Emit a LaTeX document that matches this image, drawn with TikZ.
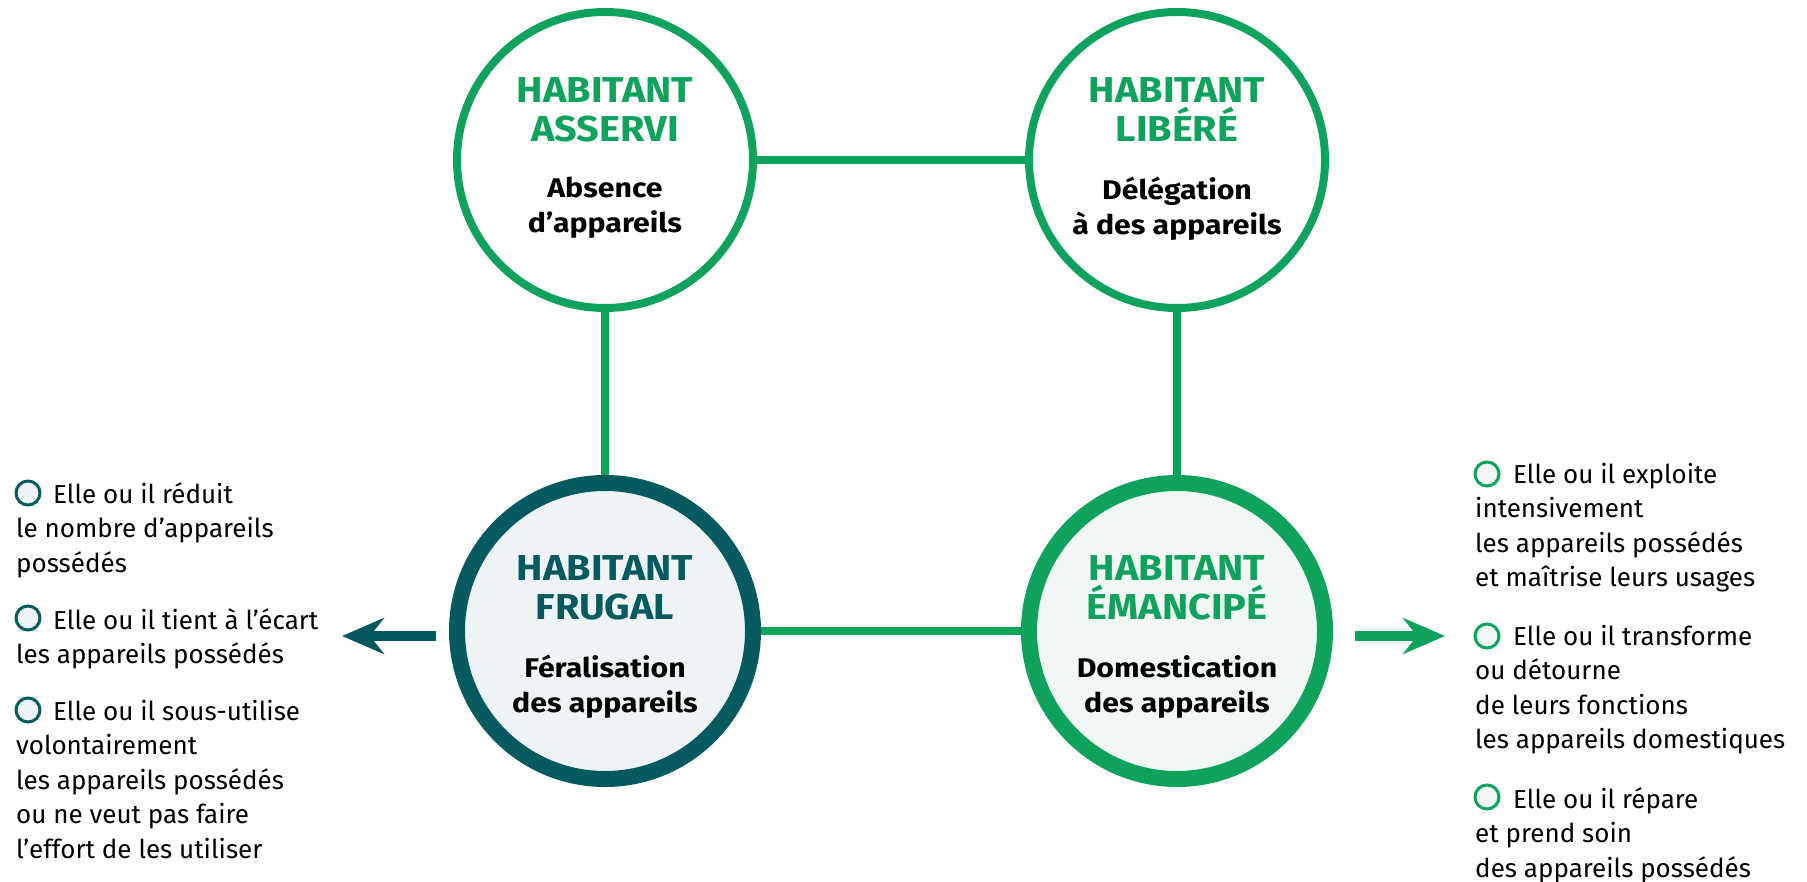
\documentclass[tikz,border=0pt]{standalone}
\usepackage{fontspec}
\setmainfont{Fira Sans}
\newfontfamily\habfont{Fira Sans}[FakeStretch=1.1]
\newfontfamily\habsubfont{Fira Sans}[FakeStretch=1.12]
\usetikzlibrary{arrows.meta}
\definecolor{vert}{HTML}{0EA35C}
\definecolor{petrole}{HTML}{055A60}
\colorlet{circle green}{vert}
\colorlet{circle teal}{petrole}
\definecolor{area green}{HTML}{F1F7F2}
\definecolor{area teal}{HTML}{EEF4F6}
\tikzset{habitant/.style={circle, minimum size=296pt, inner sep=0pt},
    thin ring/.style={habitant, draw=circle green, line width=8pt, fill=white},
    thick ring/.style={habitant, line width=16pt},
    habtitle/.style={font=\habfont\bfseries\fontsize{36}{39}\selectfont, align=center, inner sep=0pt, anchor=south},
    habtext/.style={font=\habsubfont\bfseries\fontsize{27}{35}\selectfont, align=center, inner sep=0pt, anchor=north},
    link/.style={draw=circle green, line width=8pt},
    item/.style={font=\fontsize{26}{34.5}\selectfont, align=left, inner sep=0pt, anchor=north west},
    puce/.style={circle, line width=3pt, minimum size=24pt, inner sep=0pt},
    fleche/.style={line width=10pt, -{Stealth[length=42pt, width=36pt, inset=14pt]}}}

\begin{document}
\begin{tikzpicture}[x=1pt, y=-1pt]
    \useasboundingbox (0,0) rectangle (1807,882);
    \node[thin ring] (asservi) at (605,160) {};
    \node[thin ring] (libere) at (1177,160) {};
    \node[thick ring, draw=circle teal, fill=area teal] (frugal) at (605,631) {};
    \node[thick ring, draw=circle green, fill=area green] (emancipe) at (1177,631) {};

    \draw[link] (asservi) -- (libere);
    \draw[link] (asservi) -- (frugal);
    \draw[link] (libere) -- (emancipe);
    \draw[link] (frugal) -- (emancipe);

    \node[habtitle, text=circle green] (asservi-t) at ([yshift=18pt]asservi.center) {HABITANT\\ASSERVI};
    \node[habtext] (asservi-b) at ([yshift=-17pt]asservi.center) {Absence\\d’appareils};
    \node[habtitle, text=circle green] (libere-t) at ([yshift=18pt]libere.center) {HABITANT\\LIBÉRÉ};
    \node[habtext] (libere-b) at ([yshift=-17pt]libere.center) {Délégation\\à des appareils};
    \node[habtitle, text=circle teal] (frugal-t) at ([yshift=11pt]frugal.center) {HABITANT\\FRUGAL};
    \node[habtext] (frugal-b) at ([yshift=-24pt]frugal.center) {Féralisation\\des appareils};
    \node[habtitle, text=circle green] (emancipe-t) at ([yshift=11pt]emancipe.center) {HABITANT\\ÉMANCIPÉ};
    \node[habtext] (emancipe-b) at ([yshift=-24pt]emancipe.center) {Domestication\\des appareils};

    \coordinate (gauche) at (342,636);
    \coordinate (droite) at (1445,636);
    \draw[fleche, circle teal] ([shift={(-13,5)}]frugal.west) -- (gauche);
    \draw[fleche, circle green] ([shift={(22,5)}]emancipe.east) -- (droite);

    \node[item] (fr1) at (16,482) {\hspace*{37pt}Elle ou il réduit\\le nombre d’appareils\\possédés};
    \node[item] (fr2) at (16,608) {\hspace*{37pt}Elle ou il tient à l’écart\\les appareils possédés};
    \node[item] (fr3) at (16,700) {\hspace*{37pt}Elle ou il sous-utilise\\volontairement\\les appareils possédés\\ou ne veut pas faire\\l’effort de les utiliser};
    \node[puce, draw=circle teal, fill=area teal] (pf1) at (28,493) {};
    \node[puce, draw=circle teal, fill=area teal] (pf2) at (28,618) {};
    \node[puce, draw=circle teal, fill=area teal] (pf3) at (28,710) {};

    \node[item] (em1) at (1475,463) {\hspace*{38pt}Elle ou il exploite\\intensivement\\les appareils possédés\\et maîtrise leurs usages};
    \node[item] (em2) at (1475,625) {\hspace*{38pt}Elle ou il transforme\\ou détourne\\de leurs fonctions\\les appareils domestiques};
    \node[item] (em3) at (1475,787) {\hspace*{38pt}Elle ou il répare\\et prend soin\\des appareils possédés};
    \node[puce, draw=circle green, fill=area green] (pe1) at (1487,474) {};
    \node[puce, draw=circle green, fill=area green] (pe2) at (1487,636) {};
    \node[puce, draw=circle green, fill=area green] (pe3) at (1487,797) {};
\end{tikzpicture}
\end{document}
